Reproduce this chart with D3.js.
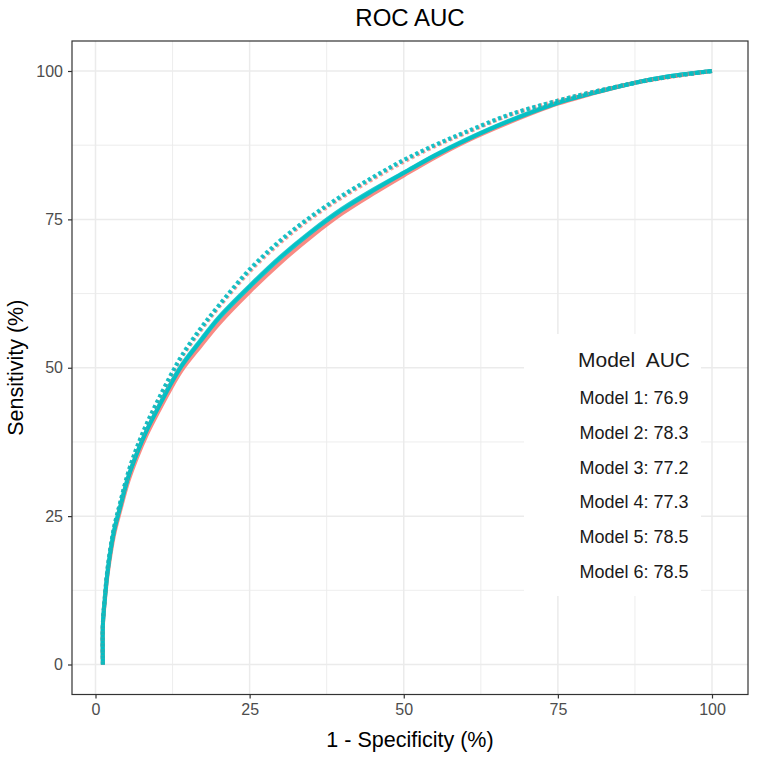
<!DOCTYPE html>
<html>
<head>
<meta charset="utf-8">
<script src="https://cdn.jsdelivr.net/npm/d3@7"></script>
<style>
  html, body { margin: 0; padding: 0; background: #fff; }
  svg { display: block; font-family: "Liberation Sans", Arial, sans-serif; }
</style>
</head>
<body>
<svg id="chart" width="760" height="758"></svg>
<script>
// ---- Data ----
const modelNames = ["Model 1", "Model 2", "Model 3", "Model 4", "Model 5", "Model 6"];
const aucValues = [76.9, 78.3, 77.2, 77.3, 78.5, 78.5];
const xTicks = [0, 25, 50, 75, 100];
const yTicks = [0, 25, 50, 75, 100];

const fpr = [1.2, 1.2, 1.5, 2, 3, 4, 5.3, 6.7, 8.3, 10, 12, 14, 17, 20, 25, 30, 35, 40, 45, 50, 55, 60, 67, 75, 80, 87, 93, 100];
const sensModel1 = [0, 6.5, 10.5, 15.4, 21.8, 25.9, 30.8, 34.8, 38.7, 42.2, 46.1, 49.6, 53.6, 57.4, 62.8, 67.7, 72.1, 76.0, 79.3, 82.4, 85.4, 88.1, 91.3, 94.5, 96.0, 97.9, 99.0, 100];
const sensModel2 = [0, 7.0, 11.1, 16.4, 22.9, 27.1, 32.2, 36.4, 40.4, 44.1, 48.1, 51.8, 56.2, 60.2, 66.2, 71.1, 75.2, 78.7, 81.8, 84.7, 87.3, 89.5, 92.5, 95.0, 96.3, 97.9, 99.0, 100];
const sensModel3 = [0, 6.7, 10.8, 15.9, 22.4, 26.5, 31.5, 35.5, 39.4, 42.9, 46.8, 50.3, 54.4, 58.3, 63.6, 68.5, 72.8, 76.6, 79.8, 82.8, 85.7, 88.3, 91.5, 94.6, 96.1, 97.9, 99.1, 100];
const sensModel4 = [0, 6.7, 10.9, 16.0, 22.5, 26.6, 31.6, 35.6, 39.5, 43.0, 47.0, 50.5, 54.6, 58.5, 63.8, 68.7, 73.0, 76.8, 80.0, 82.9, 85.8, 88.4, 91.6, 94.7, 96.1, 97.9, 99.1, 100];
const sensModel5 = [0, 7.0, 11.2, 16.5, 23.0, 27.2, 32.3, 36.5, 40.5, 44.2, 48.3, 52.0, 56.5, 60.5, 66.5, 71.4, 75.5, 79.0, 82.1, 85.0, 87.5, 89.7, 92.6, 95.0, 96.3, 97.9, 99.0, 100];
const sensModel6 = [0, 7.1, 11.3, 16.6, 23.1, 27.3, 32.4, 36.6, 40.6, 44.3, 48.4, 52.1, 56.6, 60.5, 66.6, 71.5, 75.5, 79.0, 82.1, 85.0, 87.5, 89.7, 92.6, 95.0, 96.3, 97.9, 99.0, 100];

const modelColors = ["#F8766D", "#F8766D", "#00BFC4", "#00BFC4", "#00BFC4", "#00BFC4"];
const modelDashed = [false, true, false, false, true, true];
const sensByModel = [sensModel1, sensModel2, sensModel3, sensModel4, sensModel5, sensModel6];
// draw order: solid salmon, solid teal, dotted salmon, dotted teal
const drawOrder = [0, 2, 3, 1, 4, 5];

// ---- Layout ----
const svg = d3.select("#chart");
const panel = { left: 72, right: 748, top: 41, bottom: 694.5 };
const x = d3.scaleLinear().domain([0, 100]).range([95.5, 712]);
const y = d3.scaleLinear().domain([0, 100]).range([664.5, 71]);

// background
svg.append("rect").attr("x", 0).attr("y", 0).attr("width", 760).attr("height", 758).attr("fill", "#fff");

// gridlines
const grid = svg.append("g");
const minorX = [12.5, 37.5, 62.5, 87.5];
const minorY = [12.5, 37.5, 62.5, 87.5];
grid.selectAll(".mx").data(minorX).enter().append("line")
  .attr("x1", d => x(d)).attr("x2", d => x(d)).attr("y1", panel.top).attr("y2", panel.bottom)
  .attr("stroke", "#EBEBEB").attr("stroke-width", 0.9);
grid.selectAll(".my").data(minorY).enter().append("line")
  .attr("y1", d => y(d)).attr("y2", d => y(d)).attr("x1", panel.left).attr("x2", panel.right)
  .attr("stroke", "#EBEBEB").attr("stroke-width", 0.9);
grid.selectAll(".Mx").data(xTicks).enter().append("line")
  .attr("x1", d => x(d)).attr("x2", d => x(d)).attr("y1", panel.top).attr("y2", panel.bottom)
  .attr("stroke", "#EBEBEB").attr("stroke-width", 1.5);
grid.selectAll(".My").data(yTicks).enter().append("line")
  .attr("y1", d => y(d)).attr("y2", d => y(d)).attr("x1", panel.left).attr("x2", panel.right)
  .attr("stroke", "#EBEBEB").attr("stroke-width", 1.5);

// curves
const line = d3.line()
  .x((d, i) => x(fpr[i]))
  .y(d => y(d))
  .curve(d3.curveCatmullRom.alpha(0.5));

const curves = svg.append("g");
drawOrder.forEach(m => {
  curves.append("path")
    .attr("d", line(sensByModel[m]))
    .attr("fill", "none")
    .attr("stroke", modelColors[m])
    .attr("stroke-width", 4)
    .attr("stroke-opacity", modelDashed[m] ? 0.7 : 0.85)
    .attr("stroke-dasharray", modelDashed[m] ? "3,3" : null)
    .attr("stroke-linecap", "butt")
    .attr("stroke-linejoin", "round");
});

// legend box (AUC table)
svg.append("rect").attr("x", 524).attr("y", 334).attr("width", 177).attr("height", 262).attr("fill", "#fff");
const legX = 634;
svg.append("text").attr("x", legX).attr("y", 366.5).attr("text-anchor", "middle")
  .attr("font-size", 21).attr("fill", "#1a1a1a").style("white-space", "pre")
  .text("Model  AUC");
svg.selectAll(".leg").data(modelNames).enter().append("text")
  .attr("x", legX).attr("y", (d, i) => 404 + i * 34.8).attr("text-anchor", "middle")
  .attr("font-size", 18).attr("fill", "#1a1a1a")
  .text((d, i) => d + ": " + aucValues[i].toFixed(1));

// panel border
svg.append("rect").attr("x", panel.left).attr("y", panel.top)
  .attr("width", panel.right - panel.left).attr("height", panel.bottom - panel.top)
  .attr("fill", "none").attr("stroke", "#333333").attr("stroke-width", 1.2);

// axes
const xAxis = d3.axisBottom(x).tickValues(xTicks).tickSize(4).tickPadding(5).tickFormat(d3.format("d"));
const gx = svg.append("g").attr("transform", `translate(0,${panel.bottom})`).call(xAxis);
gx.select(".domain").remove();
gx.selectAll(".tick line").attr("stroke", "#333333").attr("stroke-width", 1.2);
gx.selectAll(".tick text").attr("fill", "#4D4D4D").attr("font-size", 16).attr("font-family", "Liberation Sans, Arial, sans-serif");

const yAxis = d3.axisLeft(y).tickValues(yTicks).tickSize(4).tickPadding(5).tickFormat(d3.format("d"));
const gy = svg.append("g").attr("transform", `translate(${panel.left},0)`).call(yAxis);
gy.select(".domain").remove();
gy.selectAll(".tick line").attr("stroke", "#333333").attr("stroke-width", 1.2);
gy.selectAll(".tick text").attr("fill", "#4D4D4D").attr("font-size", 16).attr("font-family", "Liberation Sans, Arial, sans-serif");

// titles
svg.append("text").attr("x", (panel.left + panel.right) / 2).attr("y", 26).attr("text-anchor", "middle")
  .attr("font-size", 24).attr("fill", "#000").text("ROC AUC");
svg.append("text").attr("x", (panel.left + panel.right) / 2).attr("y", 747).attr("text-anchor", "middle")
  .attr("font-size", 21.5).attr("fill", "#000").text("1 - Specificity (%)");
svg.append("text").attr("transform", `translate(23,${(panel.top + panel.bottom) / 2}) rotate(-90)`)
  .attr("text-anchor", "middle").attr("font-size", 21.5).attr("fill", "#000").text("Sensitivity (%)");
</script>
</body>
</html>
